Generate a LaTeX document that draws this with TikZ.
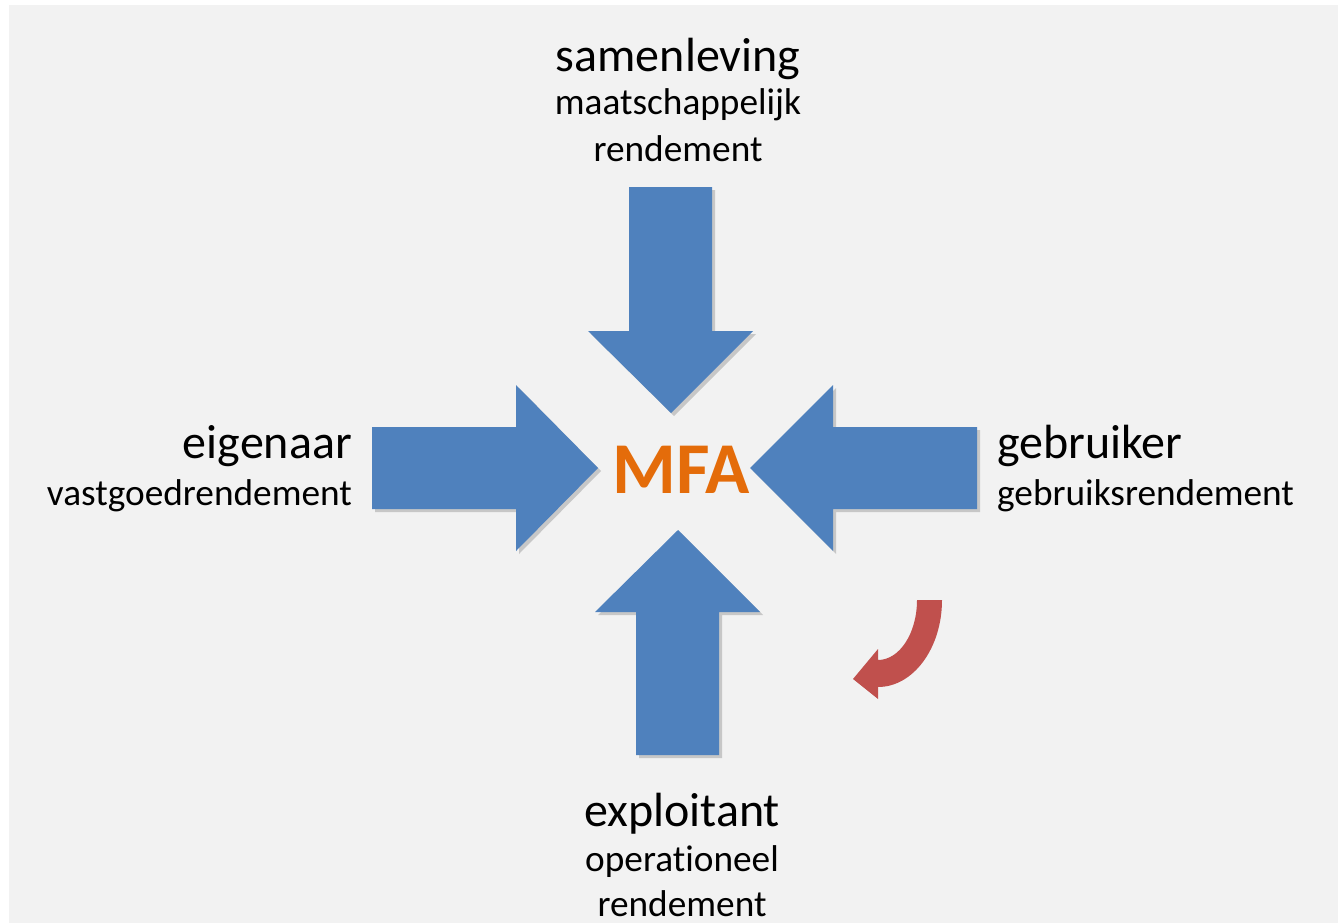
\documentclass[tikz,border=0pt]{standalone}
\usepackage{fontspec}
\setmainfont{Carlito}[RawFeature={-liga}]
\usetikzlibrary{shadows}
\definecolor{bg}{HTML}{F2F2F2}
\definecolor{arrowblue}{HTML}{4F81BD}
\definecolor{mfaorange}{HTML}{E46C0A}
\definecolor{arrowred}{HTML}{C0504D}
\tikzset{
  bigarrow/.style={fill=arrowblue, draw=none, drop shadow={shadow xshift=3pt, shadow yshift=-3pt, opacity=0.3, fill=black!60}},
  title/.style={anchor=base, font=\fontsize{48}{56}\selectfont, text=black, inner sep=0pt},
  sub/.style={anchor=base, font=\fontsize{37.3}{44}\selectfont, text=black, inner sep=0pt},
}
\begin{document}
\begin{tikzpicture}[x=1pt,y=-1pt]
\useasboundingbox (0,0) rectangle (1338,923);
\fill[white] (0,0) rectangle (1338,923);
\fill[bg] (9,5) rectangle (1338,923);
% top arrow
\path[bigarrow] (629,187) -- (712,187) -- (712,331) -- (753,331) -- (671,413) -- (588,331) -- (629,331) -- cycle;
% left arrow
\path[bigarrow] (372,427) -- (516,427) -- (516,385) -- (598,468) -- (516,551) -- (516,509) -- (372,509) -- cycle;
% right arrow
\path[bigarrow] (977,427) -- (833,427) -- (833,385) -- (750,468) -- (833,551) -- (833,509) -- (977,509) -- cycle;
% bottom arrow
\path[bigarrow] (636,755) -- (719,755) -- (719,612) -- (760,612) -- (678,530) -- (595,612) -- (636,612) -- cycle;
% red curved arrow
\fill[arrowred] (942,600) arc[start angle=0, end angle=90, x radius=64, y radius=87]
  -- (878,699) -- (853,679) -- (878,649) -- (878,660)
  arc[start angle=90, end angle=0, x radius=39, y radius=60] -- cycle;
% texts
\node[font=\bfseries\fontsize{73}{80}\selectfont, text=mfaorange, anchor=base, inner sep=0pt] (mfa) at (681,493) {MFA};
\node[title] (sam) at (678,72) {samenleving};
\node[sub] (sam1) at (678,115) {maatschappelijk};
\node[sub] (sam2) at (678,161) {rendement};
\node[title, anchor=base east] (eig) at (352,458) {eigenaar};
\node[sub, anchor=base east] (eig1) at (352,505) {vastgoedrendement};
\node[title, anchor=base west] (geb) at (997,458) {gebruiker};
\node[sub, anchor=base west] (geb1) at (997,505) {gebruiksrendement};
\node[title] (exp) at (682,826) {exploitant};
\node[sub] (exp1) at (682,871) {operationeel};
\node[sub] (exp2) at (682,916) {rendement};
\end{tikzpicture}
\end{document}
